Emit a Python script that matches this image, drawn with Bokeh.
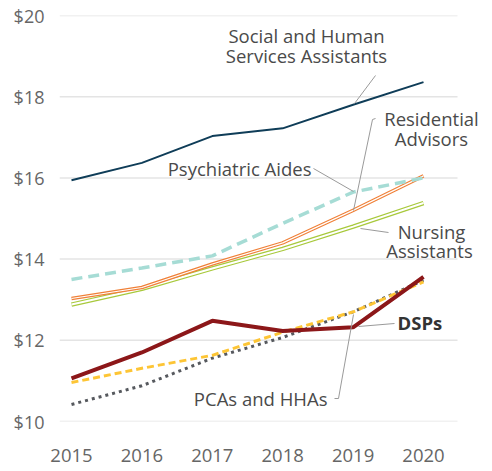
from bokeh.plotting import figure
from bokeh.models import Range1d, FixedTicker, Label
from bokeh.embed import file_html
from bokeh.resources import INLINE

years = [2015, 2016, 2017, 2018, 2019, 2020]
social_human = [15.94, 16.37, 17.03, 17.22, 17.80, 18.36]
psychiatric = [13.50, 13.78, 14.08, 14.88, 15.65, 16.00]
residential = [13.03, 13.30, 13.88, 14.40, 15.20, 16.05]
nursing = [12.88, 13.27, 13.77, 14.25, 14.80, 15.38]
dsps = [11.06, 11.70, 12.48, 12.23, 12.32, 13.56]
pcas_dash = [10.96, 11.31, 11.63, 12.20, 12.70, 13.44]
hhas_dot = [10.42, 10.88, 11.56, 12.07, 12.70, 13.48]

y_ticks = [10, 12, 14, 16, 18, 20]
y_tick_labels = {10: "$10", 12: "$12", 14: "$14", 16: "$16", 18: "$18", 20: "$20"}
x_tick_labels = {y: str(y) for y in years}

FONT = "Open Sans"
W, H = 492, 471
L, R, T, B = 59, 0, 15, 50
PX_PER_YEAR = 70.4
X0 = 2015 - 12 / PX_PER_YEAR
X1 = X0 + (W - L - R) / PX_PER_YEAR
Y0, Y1 = 10, 20

p = figure(width=W, height=H, output_backend="svg", toolbar_location=None,
           x_range=Range1d(X0, X1), y_range=Range1d(Y0, Y1),
           min_border_left=L, min_border_right=R, min_border_top=T, min_border_bottom=B)
p.outline_line_color = None
p.background_fill_color = "white"
p.border_fill_color = "white"
p.xgrid.grid_line_color = None
p.ygrid.grid_line_color = None

p.yaxis.ticker = FixedTicker(ticks=y_ticks)
p.yaxis.major_label_overrides = y_tick_labels
p.xaxis.ticker = FixedTicker(ticks=years)
p.xaxis.major_label_overrides = x_tick_labels
for ax in (p.xaxis, p.yaxis):
    ax.axis_line_color = None
    ax.major_tick_line_color = None
    ax.minor_tick_line_color = None
    ax.major_label_text_font = FONT
    ax.major_label_text_color = "#666666"
p.yaxis.major_label_text_font_size = "18px"
p.xaxis.major_label_text_font_size = "18.5px"
p.yaxis.major_label_standoff = 9
p.xaxis.major_label_standoff = 21

# pixel -> data helpers for annotations
def dx(px):
    return X0 + (px - L) / PX_PER_YEAR

def dy(py):
    return Y1 - (py - T) * (Y1 - Y0) / (H - T - B)

# horizontal grid lines (stop short of the right edge, as in the reference)
p.segment(x0=[X0] * len(y_ticks), x1=[dx(457)] * len(y_ticks), y0=y_ticks, y1=y_ticks,
          line_color="#e4e4e4", line_width=1.5)

# series
p.line(years, social_human, line_color="#0f3d58", line_width=2)
p.line(years, nursing, line_color="#a8c93c", line_width=4.5)
p.line(years, nursing, line_color="white", line_width=2)
p.line(years, residential, line_color="#f08038", line_width=3.5)
p.line(years, residential, line_color="white", line_width=1.2)
p.line(years, psychiatric, line_color="#a6dcd5", line_width=3.5, line_dash="11 6")
p.line(years, hhas_dot, line_color="#56595e", line_width=3, line_dash="3 4")
p.line(years, pcas_dash, line_color="#fdc535", line_width=3, line_dash="7 4")
p.line(years, dsps, line_color="#8c1719", line_width=4)

def leader(pts):
    p.line([dx(a) for a, b in pts], [dy(b) for a, b in pts], line_color="#9a9a9a", line_width=1)

def lab(px, py, txt, align="center", bold=False):
    p.add_layout(Label(x=dx(px), y=dy(py), text=txt, text_font=FONT, text_font_size="18.5px",
                       text_color="#333333" if bold else "#4a4a4a", text_align=align,
                       text_baseline="middle", text_font_style="bold" if bold else "normal"))

leader([(375, 75), (354, 103)])
leader([(375, 118), (372, 119), (353, 210)])
leader([(313, 168), (353, 191)])
leader([(360, 228), (388, 232)])
leader([(358, 326), (394, 323)])
leader([(334, 398), (338, 398), (353, 314)])

lab(306, 35, "Social and Human")
lab(306, 55, "Services Assistants")
lab(431, 118, "Residential")
lab(431, 138, "Advisors")
lab(311, 168, "Psychiatric Aides", align="right")
lab(431, 231, "Nursing")
lab(429, 250, "Assistants")
lab(397, 322, "DSPs", align="left", bold=True)
lab(327, 398, "PCAs and HHAs", align="right")

open("out.html", "w").write(file_html(p, INLINE))
